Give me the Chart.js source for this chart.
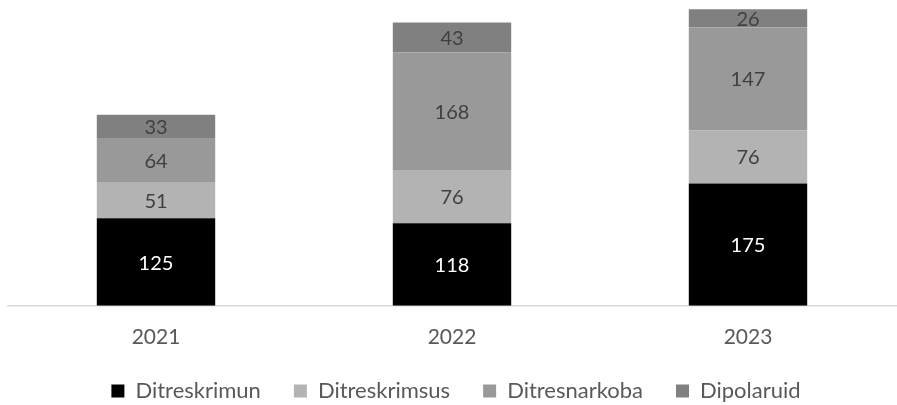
<!DOCTYPE html>
<html><head><meta charset="utf-8">
<script src="https://cdn.jsdelivr.net/npm/chart.js@4/dist/chart.umd.min.js"></script>
<style>html,body{margin:0;padding:0;background:#fff}canvas{display:block}</style>
</head><body>
<canvas id="c" width="897" height="405"></canvas>
<script>
const categories = ["2021", "2022", "2023"];
const ditreskrimun = [125, 118, 175];
const ditreskrimsus = [51, 76, 76];
const ditresnarkoba = [64, 168, 147];
const dipolaruid = [33, 43, 26];
const seriesNames = ["Ditreskrimun", "Ditreskrimsus", "Ditresnarkoba", "Dipolaruid"];

const FONT = "Lato, 'Open Sans', sans-serif";
const LEGEND_SHIFT = 14;
const labelPlugin = {
  id: 'centerLabels',
  afterDatasetsDraw(chart) {
    const ctx = chart.ctx;
    ctx.save();
    ctx.font = "20px " + FONT;
    ctx.textAlign = 'center';
    ctx.textBaseline = 'middle';
    chart.data.datasets.forEach((ds, i) => {
      const meta = chart.getDatasetMeta(i);
      meta.data.forEach((el, j) => {
        const p = el.getProps(['x', 'y', 'base'], true);
        ctx.fillStyle = i === 0 ? '#ffffff' : '#404040';
        ctx.fillText(String(ds.data[j]), p.x, (p.y + p.base) / 2 + 1);
      });
    });
    ctx.restore();
  }
};
const legendTweak = {
  id: 'legendTweak',
  afterInit(chart) {
    const lg = chart.legend;
    if (!lg) return;
    const f = lg.fit.bind(lg);
    lg.fit = function () { f(); this.height -= LEGEND_SHIFT; };
  },
  afterLayout(chart) {
    const lg = chart.legend;
    if (!lg) return;
    lg.top -= LEGEND_SHIFT;
    lg.height += LEGEND_SHIFT;
    lg.left += 4;
    lg.right += 4;
  }
};

new Chart(document.getElementById('c'), {
  type: 'bar',
  data: {
    labels: categories,
    datasets: [
      { label: seriesNames[0], data: ditreskrimun, backgroundColor: '#000000' },
      { label: seriesNames[1], data: ditreskrimsus, backgroundColor: '#b3b3b3' },
      { label: seriesNames[2], data: ditresnarkoba, backgroundColor: '#999999' },
      { label: seriesNames[3], data: dipolaruid, backgroundColor: '#808080' }
    ]
  },
  options: {
    responsive: false,
    animation: false,
    layout: { padding: { left: 8, right: 1, top: 5, bottom: -7 } },
    datasets: { bar: { barPercentage: 0.4, categoryPercentage: 1, borderWidth: 0 } },
    scales: {
      x: {
        stacked: true,
        grid: { display: false },
        border: { display: true, color: '#d9d9d9', width: 1.5 },
        ticks: { color: '#595959', font: { family: FONT, size: 21 }, padding: 11 }
      },
      y: {
        stacked: true, min: 0, max: 430, display: false
      }
    },
    plugins: {
      legend: {
        position: 'bottom',
        labels: {
          color: '#595959',
          font: { family: FONT, size: 22 },
          boxWidth: 13, boxHeight: 13, padding: 33
        }
      },
      tooltip: { enabled: false }
    }
  },
  plugins: [labelPlugin, legendTweak]
});
</script>
</body></html>
